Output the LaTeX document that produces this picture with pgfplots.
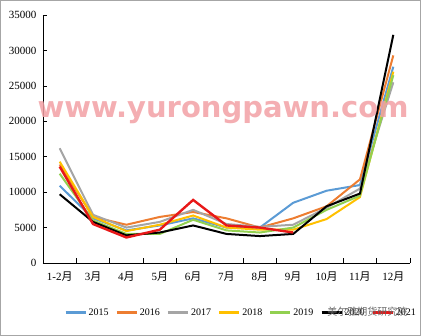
\documentclass[border=0pt]{standalone}
\usepackage{pgfplots}
\pgfplotsset{compat=1.18}
\usepackage{fontspec}
\setmainfont{Liberation Serif}
\newfontfamily\cjk{Noto Sans CJK SC}
\newfontfamily\wm{DejaVu Sans}
\definecolor{c15}{HTML}{5B9BD5}
\definecolor{c16}{HTML}{ED7D31}
\definecolor{c17}{HTML}{A5A5A5}
\definecolor{c18}{HTML}{FFC000}
\definecolor{c19}{HTML}{92D050}
\definecolor{c20}{HTML}{000000}
\definecolor{c21}{HTML}{E81818}
\definecolor{wmc}{HTML}{F2A0A4}
\begin{document}
\begin{tikzpicture}
\begin{axis}[
  at={(0pt,0pt)}, anchor=south west,
  scale only axis, width=367pt, height=248pt,
  xmin=-0.5, xmax=10.5, ymin=0, ymax=35000,
  axis x line=bottom, axis y line=left,
  axis line style={-, black, line width=0.6pt},
  xtick={0,...,10},
  xticklabels={1-2{\cjk 月},3{\cjk 月},4{\cjk 月},5{\cjk 月},6{\cjk 月},7{\cjk 月},8{\cjk 月},9{\cjk 月},10{\cjk 月},11{\cjk 月},12{\cjk 月}},
  minor xtick={-0.5,0.5,...,10.5},
  major x tick style={draw=none},
  minor x tick style={black, line width=0.6pt},
  minor tick length=5pt,
  ytick={0,5000,...,35000},
  major tick length=4pt,
  y tick style={black, line width=0.6pt},
  tick align=inside,
  yticklabel style={font=\fontsize{11}{12}\selectfont, xshift=-3pt},
  xticklabel style={font=\fontsize{11}{12}\selectfont, yshift=-5pt},
  /pgf/number format/assume math mode=true,
  /pgf/number format/set thousands separator={},
  scaled y ticks=false,
  clip=false,
  legend columns=7,
  legend style={draw=none, at={(0.54,-0.2)}, anchor=center, font=\fontsize{10}{11}\selectfont,
    /tikz/every even column/.append style={column sep=5pt}},
  legend image code/.code={\draw[#1, line width=2.2pt] (0pt,0pt) -- (20pt,0pt);},
  every axis plot/.append style={line width=2pt, mark=none},
]
\addplot[c15] coordinates {(0,10900)(1,6300)(2,4600)(3,5300)(4,6300)(5,5000)(6,5000)(7,8500)(8,10200)(9,11000)(10,27700)};
\addplot[c16] coordinates {(0,13900)(1,6500)(2,5400)(3,6500)(4,7200)(5,6300)(6,5000)(7,6300)(8,8000)(9,11800)(10,29300)};
\addplot[c17] coordinates {(0,16200)(1,6800)(2,5000)(3,5800)(4,7500)(5,5500)(6,5100)(7,5400)(8,7800)(9,10500)(10,25500)};
\addplot[c18] coordinates {(0,14300)(1,6500)(2,4500)(3,5400)(4,6700)(5,5000)(6,4700)(7,4700)(8,6200)(9,9300)(10,27000)};
\addplot[c19] coordinates {(0,12600)(1,6000)(2,4100)(3,4100)(4,6100)(5,4600)(6,4300)(7,5000)(8,7500)(9,9500)(10,26500)};
\addplot[c20] coordinates {(0,9700)(1,5800)(2,3900)(3,4300)(4,5300)(5,4100)(6,3800)(7,4100)(8,8000)(9,9800)(10,32200)};
\addplot[c21, line width=2.4pt] coordinates {(0,13600)(1,5500)(2,3600)(3,4700)(4,8900)(5,5300)(6,5000)(7,4300)};
\legend{2015,2016,2017,2018,2019,2020,2021}
\end{axis}
\draw[gray!70, line width=1pt, use as bounding box] (-42.5pt,-72.5pt) rectangle (377.5pt,262.5pt);
\node[text=wmc, opacity=0.85, font=\wm\bfseries\fontsize{29}{29}\selectfont, anchor=center] at (180pt,150pt) {www.yurongpawn.com};
\node[text=gray!80!black, font=\cjk\fontsize{10}{11}\selectfont, anchor=east] at (368pt,-49pt) {美尔雅期货研究院};
\end{tikzpicture}
\end{document}
